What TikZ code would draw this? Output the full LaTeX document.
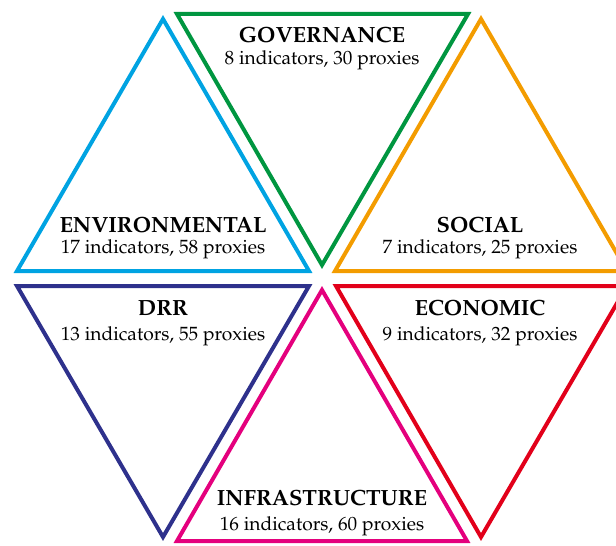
\documentclass[tikz,border=0pt]{standalone}
\usepackage[T1]{fontenc}
\usepackage{mathpazo}
\definecolor{envblue}{RGB}{0,163,226}
\definecolor{govgreen}{RGB}{0,150,64}
\definecolor{socorange}{RGB}{243,156,0}
\definecolor{drrnavy}{RGB}{46,49,140}
\definecolor{infpink}{RGB}{228,0,125}
\definecolor{ecored}{RGB}{226,0,26}
\tikzset{
  tri/.style={line width=3pt,line join=miter},
  head/.style={anchor=base,inner sep=0.75pt,font=\fontsize{16.5}{18}\selectfont\bfseries},
  sub/.style={anchor=base,inner sep=0.75pt,font=\fontsize{14.4}{16}\selectfont}
}
\begin{document}
\begin{tikzpicture}[x=0.75pt,y=0.75pt,yscale=-1,xscale=1]
\useasboundingbox (0,0) rectangle (616,545);

%Shape: Triangle [environmental]
\draw [tri,color=envblue] (163,19) -- (309,271) -- (17,271) -- cycle ;
%Shape: Triangle [governance]
\draw [tri,color=govgreen] (177,14) -- (468,14) -- (322,265) -- cycle ;
%Shape: Triangle [social]
\draw [tri,color=socorange] (481,19) -- (627,271) -- (335,271) -- cycle ;
%Shape: Triangle [drr]
\draw [tri,color=drrnavy] (17,286) -- (309,286) -- (163,537) -- cycle ;
%Shape: Triangle [infrastructure]
\draw [tri,color=infpink] (322,290) -- (467,541) -- (177,541) -- cycle ;
%Shape: Triangle [economic]
\draw [tri,color=ecored] (336,286) -- (627,286) -- (481,537) -- cycle ;

% Text Node
\node (govhead) at (322,43) [head] {GOVERNANCE};
\node (govsub) at (322,65) [sub] {8 indicators, 30 proxies};
% Text Node
\node (envhead) at (163,232) [head] {ENVIRONMENTAL};
\node (envsub) at (163,253) [sub] {17 indicators, 58 proxies};
% Text Node
\node (sochead) at (480,232) [head] {SOCIAL};
\node (socsub) at (480,253) [sub] {7 indicators, 25 proxies};
% Text Node
\node (drrhead) at (163,315) [head] {DRR};
\node (drrsub) at (163,340) [sub] {13 indicators, 55 proxies};
% Text Node
\node (ecohead) at (480,315) [head] {ECONOMIC};
\node (ecosub) at (480,340) [sub] {9 indicators, 32 proxies};
% Text Node
\node (infhead) at (322,505) [head] {INFRASTRUCTURE};
\node (infsub) at (322,530) [sub] {16 indicators, 60 proxies};

\end{tikzpicture}
\end{document}
